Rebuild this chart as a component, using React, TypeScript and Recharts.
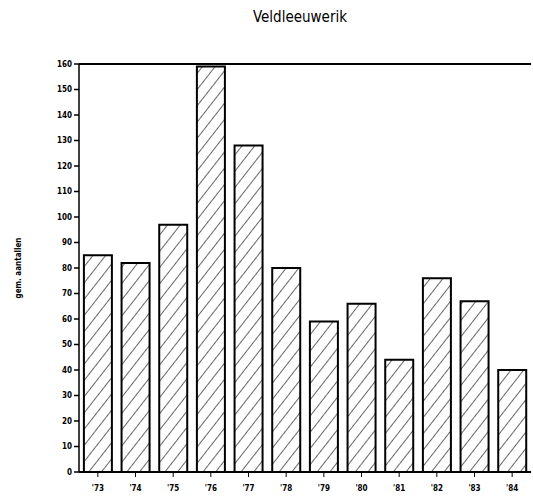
import { BarChart, Bar, XAxis, YAxis, ReferenceLine } from 'recharts';

const years = ["'73", "'74", "'75", "'76", "'77", "'78", "'79", "'80", "'81", "'82", "'83", "'84"];
const counts = [85, 82, 97, 159, 128, 80, 59, 66, 44, 76, 67, 40];
const yTicks = [0, 10, 20, 30, 40, 50, 60, 70, 80, 90, 100, 110, 120, 130, 140, 150, 160];

const data = years.map((year, i) => ({ year, count: counts[i] }));

const tickStyle = { fill: '#000', fontSize: 8, fontWeight: 700, fontFamily: 'DejaVu Sans Condensed, DejaVu Sans, sans-serif' };

export default function App() {
  return (
    <div style={{ position: 'absolute', left: 0, top: 0, width: 533, height: 501, background: '#fff' }}>
      <div
        style={{
          position: 'absolute',
          left: 0,
          width: 600,
          top: 8,
          textAlign: 'center',
          fontFamily: 'DejaVu Sans Condensed, DejaVu Sans, sans-serif',
          fontSize: 15,
          color: '#000',
        }}
      >
        Veldleeuwerik
      </div>
      <BarChart
        width={533}
        height={501}
        data={data}
        margin={{ top: 64, right: 2, bottom: 4, left: 14 }}
        barCategoryGap="13%"
      >
        <defs>
          <pattern id="hatch" width="10" height="10" patternUnits="userSpaceOnUse" patternTransform="rotate(38)">
            <line x1="0" y1="0" x2="0" y2="10" stroke="#000" strokeWidth="1.2" />
          </pattern>
        </defs>
        <XAxis
          dataKey="year"
          height={25}
          tick={tickStyle}
          tickSize={5}
          tickMargin={8}
          axisLine={{ stroke: '#000', strokeWidth: 2 }}
          tickLine={{ stroke: '#000' }}
        />
        <YAxis
          domain={[0, 160]}
          ticks={yTicks}
          interval={0}
          width={65}
          tick={tickStyle}
          tickSize={5}
          tickLine={{ stroke: '#000', strokeWidth: 1.5 }}
          axisLine={{ stroke: '#000', strokeWidth: 1.5 }}
          label={{
            value: 'gem. aantallen',
            angle: -90,
            position: 'insideLeft',
            offset: 4,
            style: { ...tickStyle, fontSize: 8, textAnchor: 'middle' },
          }}
        />
        <YAxis
          yAxisId="right"
          orientation="right"
          width={0}
          tick={false}
          tickLine={false}
          axisLine={{ stroke: '#000', strokeWidth: 1.5 }}
        />
        <ReferenceLine y={160} stroke="#000" strokeWidth={2} />
        <Bar dataKey="count" fill="url(#hatch)" stroke="#000" strokeWidth={2} isAnimationActive={false} />
      </BarChart>
    </div>
  );
}
